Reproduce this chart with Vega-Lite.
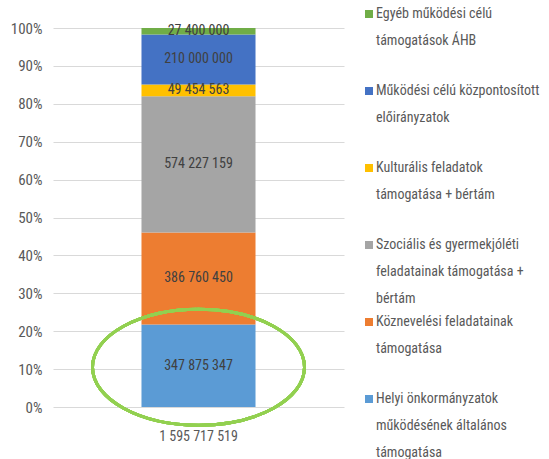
{
  "$schema": "https://vega.github.io/schema/vega-lite/v6.json",
  "width": 291,
  "height": 379,
  "autosize": {"type": "none"},
  "padding": {"left": 53, "top": 28, "right": 205, "bottom": 52},
  "background": "white",
  "config": {
    "locale": {"number": {"decimal": ",", "thousands": " ", "grouping": [3], "currency": ["", ""]}},
    "font": "Roboto Condensed, DejaVu Sans Condensed, sans-serif",
    "view": {"stroke": null},
    "axis": {
      "labelFont": "Roboto Condensed, DejaVu Sans Condensed, sans-serif",
      "labelFontSize": 14,
      "labelColor": "#595959",
      "domain": false,
      "ticks": false,
      "tickSize": 0,
      "title": null,
      "gridColor": "#D9D9D9",
      "gridWidth": 1,
      "labelOverlap": false
    },
    "legend": {
      "labelFont": "Roboto Condensed, DejaVu Sans Condensed, sans-serif"
    }
  },
  "data": {
    "values": [
      {"kategoria": "Helyi önkormányzatok működésének általános támogatása", "osszeg": 347875347, "sorrend": 1, "osszesen": "1 595 717 519"},
      {"kategoria": "Köznevelési feladatainak támogatása", "osszeg": 386760450, "sorrend": 2, "osszesen": "1 595 717 519"},
      {"kategoria": "Szociális és gyermekjóléti feladatainak támogatása + bértám", "osszeg": 574227159, "sorrend": 3, "osszesen": "1 595 717 519"},
      {"kategoria": "Kulturális feladatok támogatása + bértám", "osszeg": 49454563, "sorrend": 4, "osszesen": "1 595 717 519"},
      {"kategoria": "Működési célú központosított előirányzatok", "osszeg": 210000000, "sorrend": 5, "osszesen": "1 595 717 519"},
      {"kategoria": "Egyéb működési célú támogatások ÁHB", "osszeg": 27400000, "sorrend": 6, "osszesen": "1 595 717 519"}
    ]
  },
  "layer": [
    {
      "mark": {"type": "bar"},
      "encoding": {
        "x": {
          "field": "osszesen",
          "type": "nominal",
          "scale": {"paddingInner": 0, "paddingOuter": 0.776},
          "axis": {"labelAngle": 0, "labelPadding": 22, "grid": false}
        },
        "y": {
          "field": "osszeg",
          "type": "quantitative",
          "stack": "normalize",
          "scale": {"domain": [0, 1]},
          "axis": {"format": ".0%", "values": [0, 0.1, 0.2, 0.3, 0.4, 0.5, 0.6, 0.7, 0.8, 0.9, 1], "labelPadding": 11, "labelFontSize": 15, "grid": true}
        },
        "color": {
          "field": "kategoria",
          "type": "nominal",
          "scale": {
            "domain": [
              "Egyéb működési célú támogatások ÁHB",
              "Működési célú központosított előirányzatok",
              "Kulturális feladatok támogatása + bértám",
              "Szociális és gyermekjóléti feladatainak támogatása + bértám",
              "Köznevelési feladatainak támogatása",
              "Helyi önkormányzatok működésének általános támogatása"
            ],
            "range": ["#70AD47", "#4472C4", "#FFC000", "#A5A5A5", "#ED7D31", "#5B9BD5"]
          },
          "legend": {
            "orient": "none",
            "legendX": 309,
            "legendY": -21,
            "title": null,
            "symbolType": "square",
            "symbolSize": 64,
            "symbolStrokeWidth": 0,
            "labelFontSize": 14,
            "labelColor": "#595959",
            "labelLimit": 400,
            "rowPadding": 9,
            "labelOffset": 0,
            "labelBaseline": "top",
            "labelExpr": "datum.label == 'Egyéb működési célú támogatások ÁHB' ? ['Egyéb működési célú', 'támogatások ÁHB', ' '] : datum.label == 'Működési célú központosított előirányzatok' ? ['Működési célú központosított', 'előirányzatok', ' '] : datum.label == 'Kulturális feladatok támogatása + bértám' ? ['Kulturális feladatok', 'támogatása + bértám', ' '] : datum.label == 'Szociális és gyermekjóléti feladatainak támogatása + bértám' ? ['Szociális és gyermekjóléti', 'feladatainak támogatása +', 'bértám'] : datum.label == 'Köznevelési feladatainak támogatása' ? ['Köznevelési feladatainak', 'támogatása', ' '] : ['Helyi önkormányzatok', 'működésének általános', 'támogatása']",
            "encode": {"labels": {"update": {"dy": {"value": -7}, "lineHeight": {"value": 27}}}}
          }
        },
        "order": {"field": "sorrend", "type": "quantitative"}
      }
    },
    {
      "mark": {"type": "text", "color": "#404040", "fontSize": 14, "font": "Roboto Condensed, DejaVu Sans Condensed, sans-serif"},
      "encoding": {
        "x": {"field": "osszesen", "type": "nominal"},
        "y": {
          "field": "osszeg",
          "type": "quantitative",
          "stack": "normalize",
          "bandPosition": 0.5,
          "axis": {"format": ".0%", "values": [0, 0.1, 0.2, 0.3, 0.4, 0.5, 0.6, 0.7, 0.8, 0.9, 1], "labelPadding": 11, "labelFontSize": 15, "grid": true}
        },
        "text": {"field": "osszeg", "type": "quantitative", "format": ",d"},
        "order": {"field": "sorrend", "type": "quantitative"}
      }
    },
    {
      "mark": {
        "type": "point",
        "shape": "M-1,0A1,0.547,0,1,1,1,0A1,0.547,0,1,1,-1,0Z",
        "size": 44944,
        "filled": false,
        "stroke": "#92D050",
        "strokeWidth": 3,
        "opacity": 1
      },
      "encoding": {
        "x": {"datum": "1 595 717 519", "type": "nominal"},
        "y": {
          "datum": 0.105,
          "type": "quantitative",
          "axis": {"format": ".0%", "values": [0, 0.1, 0.2, 0.3, 0.4, 0.5, 0.6, 0.7, 0.8, 0.9, 1], "labelPadding": 11, "labelFontSize": 15, "grid": true}
        }
      }
    }
  ]
}
